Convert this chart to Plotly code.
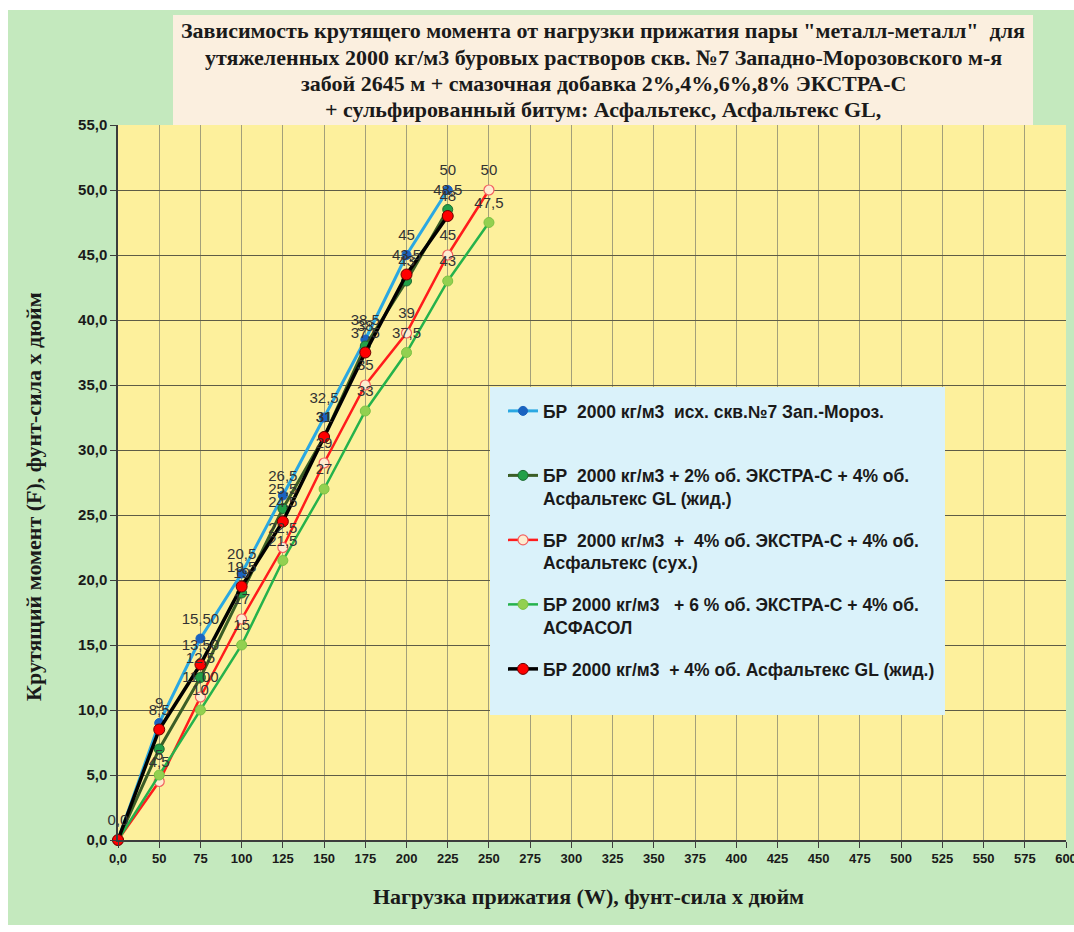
import plotly.graph_objects as go

# ---------------- data ----------------
categories = ["0,0", "50", "75", "100", "125", "150", "175", "200", "225", "250",
              "275", "300", "325", "350", "375", "400", "425", "450", "475", "500",
              "525", "550", "575", "600"]

y_ticks = [0, 5, 10, 15, 20, 25, 30, 35, 40, 45, 50, 55]
y_tick_labels = ["0,0", "5,0", "10,0", "15,0", "20,0", "25,0", "30,0", "35,0",
                 "40,0", "45,0", "50,0", "55,0"]

names = [
    "БР\u00a0 2000 кг/м3\u00a0 исх. скв.№7 Зап.-Мороз.<br>\u00a0",
    "БР\u00a0 2000 кг/м3 + 2% об. ЭКСТРА-С + 4% об.<br>Асфальтекс GL (жид.)",
    "БР\u00a0 2000 кг/м3\u00a0 +\u00a0 4% об. ЭКСТРА-С + 4% об.<br>Асфальтекс (сух.)",
    "БР 2000 кг/м3\u00a0\u00a0 + 6 % об. ЭКСТРА-С + 4% об.<br>АСФАСОЛ",
    "БР 2000 кг/м3\u00a0 + 4% об. Асфальтекс GL (жид.)<br>\u00a0",
]

x_blue = ["0,0", "50", "75", "100", "125", "150", "175", "200", "225"]
y_blue = [0, 9, 15.5, 20.5, 26.5, 32.5, 38.5, 45, 50]
t_blue = ["0,0", "9", "15,50", "20,5", "26,5", "32,5", "38,5", "45", "50"]

x_dkgreen = ["0,0", "50", "75", "100", "125", "150", "175", "200", "225"]
y_dkgreen = [0, 7, 12.5, 19, 25.5, 31, 38, 43, 48.5]
t_dkgreen = ["", "", "12,5", "19", "25,5", "31", "38", "43", "48,5"]

x_red = ["0,0", "50", "75", "100", "125", "150", "175", "200", "225", "250"]
y_red = [0, 4.5, 11, 17, 22.5, 29, 35, 39, 45, 50]
t_red = ["", "4,5", "11,00", "17", "22,5", "29", "35", "39", "45", "50"]

x_ltgreen = ["0,0", "50", "75", "100", "125", "150", "175", "200", "225", "250"]
y_ltgreen = [0, 5, 10, 15, 21.5, 27, 33, 37.5, 43, 47.5]
t_ltgreen = ["", "5", "10", "15", "21,5", "27", "33", "37,5", "43", "47,5"]

x_black = ["0,0", "50", "75", "100", "125", "150", "175", "200", "225"]
y_black = [0, 8.5, 13.5, 19.5, 24.5, 31, 37.5, 43.5, 48]
t_black = ["", "8,5", "13,50", "19,5", "24,5", "31", "37,5", "43,5", "48"]

title_lines = [
    "Зависимость крутящего момента от нагрузки прижатия пары \"металл-металл\"\u00a0 для",
    "утяжеленных 2000 кг/м3 буровых растворов скв. №7 Западно-Морозовского м-я",
    "забой 2645 м + смазочная добавка 2%,4%,6%,8% ЭКСТРА-С",
    "+ сульфированный битум: Асфальтекс, Асфальтекс GL,",
]

# ---------------- layout helpers ----------------
W, H = 1074, 932
PL, PR, PT, PB = 118, 1066, 125, 840


def px(x):
    return (x - PL) / (PR - PL)


def py(y):
    return (PB - y) / (PB - PT)


SANS = "Liberation Sans, Arial, sans-serif"
SERIF = "Liberation Serif, Times New Roman, serif"
LBL = dict(family=SANS, size=15, color="#333333")

fig = go.Figure()

specs = [
    (x_blue, y_blue, t_blue, names[0], dict(color="#2aa8e2", width=3),
     dict(color="#1a63c0", size=9, line=dict(color="#1a63c0", width=1))),
    (x_dkgreen, y_dkgreen, t_dkgreen, names[1], dict(color="#3b5e26", width=3),
     dict(color="#22a048", size=10, line=dict(color="#1d6b30", width=1))),
    (x_red, y_red, t_red, names[2], dict(color="#ff1c1c", width=2.5),
     dict(color="#fdecd0", size=10, line=dict(color="#f26060", width=1.2))),
    (x_ltgreen, y_ltgreen, t_ltgreen, names[3], dict(color="#25b24c", width=2.5),
     dict(color="#92d050", size=10, line=dict(color="#7cc243", width=1))),
    (x_black, y_black, t_black, names[4], dict(color="#000000", width=3.5),
     dict(color="#ff0000", size=11, line=dict(color="#6b0000", width=1))),
]

# series lines + markers
for i, (xs, ys, ts, nm, ln, mk) in enumerate(specs):
    fig.add_trace(go.Scatter(
        x=xs, y=ys, name=nm, mode="lines+markers",
        line=ln, marker=mk, cliponaxis=False, legendgroup=f"g{i}",
    ))

# data labels drawn on top of all series (as in the source chart);
# transparent markers only set the gap between point and label
for i, (xs, ys, ts, nm, ln, mk) in enumerate(specs):
    fig.add_trace(go.Scatter(
        x=xs, y=ys, text=ts, mode="markers+text", textposition="top center",
        textfont=LBL, cliponaxis=False, showlegend=False, hoverinfo="skip",
        marker=dict(size=16, color="rgba(0,0,0,0)", line=dict(width=0)),
        legendgroup=f"g{i}",
    ))

shapes = [
    # green background card
    dict(type="rect", xref="paper", yref="paper", layer="below",
         x0=px(8), x1=px(1074), y0=py(925), y1=py(10),
         fillcolor="#c4e9be", line=dict(width=0)),
    # plot area
    dict(type="rect", xref="paper", yref="paper", layer="below",
         x0=0, x1=1, y0=0, y1=1, fillcolor="#fdf09c", line=dict(width=0)),
    # title box
    dict(type="rect", xref="paper", yref="paper", layer="below",
         x0=px(173), x1=px(1033), y0=py(125), y1=py(15),
         fillcolor="#fbefdf", line=dict(width=0)),
    # legend box
    dict(type="rect", xref="paper", yref="paper", layer="above",
         x0=px(490), x1=px(945), y0=py(715), y1=py(387),
         fillcolor="#daf2fa", line=dict(width=0)),
]

annotations = []
for line, yc in zip(title_lines, [31, 58, 84, 110]):
    annotations.append(dict(
        text="<b>" + line + "</b>", xref="paper", yref="paper", x=px(603), y=py(yc),
        xanchor="center", yanchor="middle", showarrow=False,
        font=dict(family=SERIF, size=22, color="#1a1a1a")))

annotations += [
    dict(text="<b>Нагрузка прижатия (W), фунт-сила х дюйм</b>", xref="paper", yref="paper",
         x=px(588), y=py(897), xanchor="center", yanchor="middle", showarrow=False,
         font=dict(family=SERIF, size=22, color="#1a1a1a")),
    dict(text="<b>Крутящий момент (F), фунт-сила х дюйм</b>", xref="paper", yref="paper",
         x=px(33), y=py(497), xanchor="center", yanchor="middle", showarrow=False,
         textangle=-90, font=dict(family=SERIF, size=22, color="#1a1a1a")),
]

fig.update_layout(
    width=W, height=H,
    margin=dict(l=PL, r=W - PR, t=PT, b=H - PB, autoexpand=False),
    paper_bgcolor="#ffffff", plot_bgcolor="#fdf09c",
    shapes=shapes, annotations=annotations,
    showlegend=True, autosize=False,
    legend=dict(x=px(503), y=py(393), xanchor="left", yanchor="top",
                bgcolor="rgba(0,0,0,0)", borderwidth=0,
                font=dict(family=SANS, size=17.5, color="#1a1a1a", weight="bold"),
                tracegroupgap=16, valign="top", traceorder="grouped",
                itemwidth=30),
    font=dict(family=SANS),
)

fig.update_xaxes(
    type="category", categoryorder="array", categoryarray=categories,
    tickvals=categories, ticktext=categories,
    range=[0, len(categories) - 1], automargin=False,
    showgrid=True, gridcolor="#a3a07a", gridwidth=1,
    showline=True, linecolor="#3c3c3c", linewidth=1.5,
    ticks="outside", ticklen=6, tickcolor="#3c3c3c",
    tickfont=dict(family=SANS, size=13, color="#1a1a1a", weight="bold"),
    zeroline=False, mirror=False,
)
fig.update_yaxes(
    range=[0, 55], tickvals=y_ticks, ticktext=y_tick_labels, automargin=False,
    showgrid=True, gridcolor="#5e5c46", gridwidth=1.2,
    showline=True, linecolor="#3c3c3c", linewidth=1.5,
    ticks="outside", ticklen=6, tickcolor="#3c3c3c",
    tickfont=dict(family=SANS, size=15, color="#1a1a1a", weight="bold"),
    zeroline=False,
)

fig.write_html("out.html")
